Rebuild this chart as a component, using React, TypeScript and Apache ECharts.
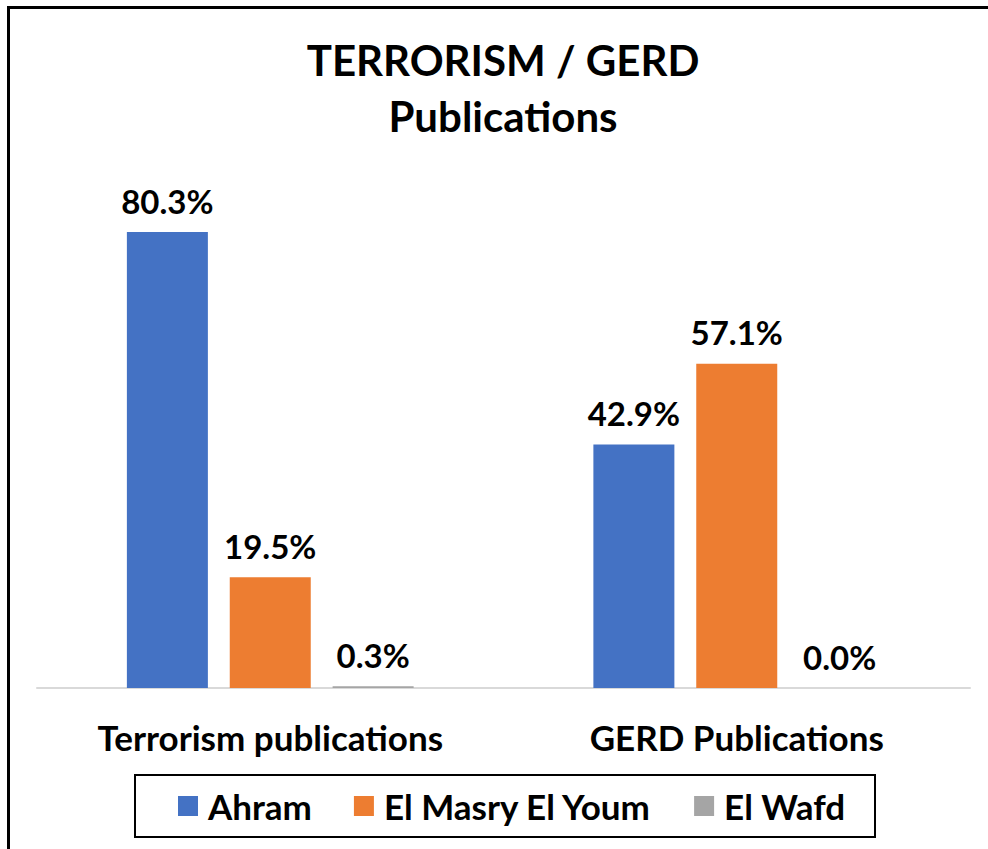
import React, { useEffect, useRef } from "react";
import * as echarts from "echarts";

const categories = ["Terrorism publications", "GERD Publications"];
const seriesNames = ["Ahram", "El Masry El Youm", "El Wafd"];
const ahram = [80.3, 42.9];
const masry = [19.5, 57.1];
const wafd = [0.3, 0.0];
const colors = ["#4472C4", "#ED7D31", "#A5A5A5"];
const titleLines = ["TERRORISM / GERD", "Publications"];

const FONT = "Lato";

export default function App() {
  const ref = useRef<HTMLDivElement>(null);
  useEffect(() => {
    if (!ref.current) return;
    const chart = echarts.init(ref.current, undefined, { renderer: "svg" });
    const values = [ahram, masry, wafd];
    chart.setOption({
      animation: false,
      backgroundColor: "#ffffff",
      textStyle: { fontFamily: FONT },
      grid: { left: 37, right: 18, top: 177, bottom: 161, containLabel: false },
      xAxis: {
        type: "category",
        data: categories,
        axisLine: { show: true, lineStyle: { color: "#d9d9d9", width: 2 } },
        axisTick: { show: false },
        axisLabel: {
          margin: 31,
          color: "#000",
          fontFamily: FONT,
          fontWeight: "bold",
          fontSize: 35,
        },
      },
      yAxis: {
        type: "value",
        min: 0,
        max: 90,
        show: false,
        splitLine: { show: false },
      },
      legend: {
        data: seriesNames,
        left: 178,
        top: 788,
        padding: 0,
        itemWidth: 20,
        itemHeight: 20,
        itemGap: 42,
        icon: "rect",
        textStyle: {
          fontFamily: FONT,
          fontWeight: "bold",
          fontSize: 35,
          lineHeight: 36,
          color: "#000",
          padding: [0, 0, 0, 5],
        },
      },
      graphic: [
        {
          type: "line",
          shape: { x1: 8.5, y1: 7.5, x2: 8.5, y2: 860 },
          style: { stroke: "#000", lineWidth: 3 },
        },
        {
          type: "line",
          shape: { x1: 7, y1: 7.5, x2: 1000, y2: 7.5 },
          style: { stroke: "#000", lineWidth: 3 },
        },
        {
          type: "rect",
          shape: { x: 135, y: 775, width: 740, height: 62 },
          style: { fill: "none", stroke: "#000", lineWidth: 2 },
        },
        {
          type: "text",
          x: 503,
          y: 60,
          style: {
            text: titleLines[0],
            textAlign: "center",
            textVerticalAlign: "middle",
            fontFamily: FONT,
            fontWeight: "bold",
            fontSize: 42,
            fill: "#000",
          },
        },
        {
          type: "text",
          x: 503,
          y: 116,
          style: {
            text: titleLines[1],
            textAlign: "center",
            textVerticalAlign: "middle",
            fontFamily: FONT,
            fontWeight: "bold",
            fontSize: 42,
            fill: "#000",
          },
        },
      ],
      series: seriesNames.map((name, i) => ({
        name,
        type: "bar",
        data: values[i],
        barWidth: 81,
        barGap: "27%",
        itemStyle: { color: colors[i] },
        label: {
          show: true,
          position: "top",
          distance: 15,
          color: "#000",
          fontFamily: FONT,
          fontWeight: "bold",
          fontSize: 33,
          formatter: (p: any) => Number(p.value).toFixed(1) + "%",
        },
      })),
    });
    return () => chart.dispose();
  }, []);
  return (
    <div
      ref={ref}
      style={{ position: "fixed", left: 0, top: 0, width: 988, height: 849 }}
    />
  );
}
